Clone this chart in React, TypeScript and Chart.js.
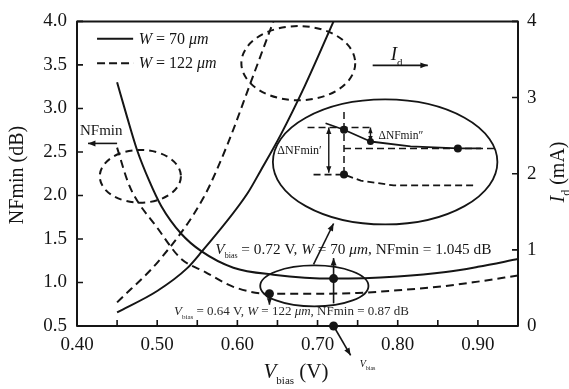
import { useEffect, useRef } from 'react';
import { Chart, registerables } from 'chart.js';

Chart.register(...registerables);

const SERIF = '"Liberation Serif", "Times New Roman", serif';
const INK = '#151515';

// axis ranges
const biasMin = 0.4;
const biasMax = 0.95;
const biasStep = 0.05;
const nfAxisMin = 0.5;
const nfAxisMax = 4.0;
const nfAxisStep = 0.5;
const idAxisMin = 0;
const idAxisMax = 4;
const idAxisStep = 1;

// NFmin (dB) versus Vbias (V)
const nfBias70 = [0.45, 0.4625, 0.475, 0.49, 0.505, 0.53, 0.555, 0.595, 0.645, 0.72, 0.8, 0.86, 0.9, 0.95];
const nfmin70 = [3.3, 2.9, 2.52, 2.17, 1.88, 1.56, 1.36, 1.17, 1.09, 1.045, 1.07, 1.12, 1.18, 1.27];
const nfBias122 = [0.45, 0.4625, 0.47, 0.5, 0.529, 0.56, 0.595, 0.64, 0.7, 0.75, 0.8, 0.86, 0.9, 0.95];
const nfmin122 = [2.55, 2.18, 2.02, 1.63, 1.28, 1.12, 0.95, 0.87, 0.87, 0.88, 0.91, 0.96, 1.01, 1.08];

// Id (mA) versus Vbias (V)
const idBias70 = [0.45, 0.5, 0.5375, 0.555, 0.6125, 0.629, 0.654, 0.684, 0.72];
const id70 = [0.18, 0.46, 0.76, 0.97, 1.74, 2.04, 2.51, 3.15, 4.0];
const idBias122 = [0.45, 0.504, 0.5575, 0.5875, 0.616, 0.6375, 0.645];
const id122 = [0.31, 0.88, 1.68, 2.38, 3.18, 3.79, 4.0];

// optimum bias points: [W = 70 um, W = 122 um]
const optBias = [0.72, 0.64];
const optNF = [1.045, 0.87];

// zoomed sketch inside the large ellipse
const insetSolidBias = [0.71, 0.733, 0.766, 0.816, 0.875, 0.904];
const insetSolidNF = [2.83, 2.755, 2.62, 2.565, 2.54, 2.54];
const insetDashBias = [0.695, 0.733, 0.754, 0.795, 0.895];
const insetDashNF = [2.24, 2.24, 2.17, 2.115, 2.115];
const insetDotBias = [0.733, 0.766, 0.875, 0.733];
const insetDotNF = [2.755, 2.62, 2.54, 2.24];

type Seg = { t: string; it?: boolean; sub?: boolean };

const legend70: Seg[] = [{ t: 'W', it: true }, { t: ' = 70 ' }, { t: 'μm', it: true }];
const legend122: Seg[] = [{ t: 'W', it: true }, { t: ' = 122 ' }, { t: 'μm', it: true }];
const note70: Seg[] = [
  { t: 'V', it: true }, { t: 'bias', sub: true }, { t: ' = 0.72 V, ' },
  { t: 'W', it: true }, { t: ' = 70 ' }, { t: 'μm', it: true }, { t: ', NFmin = 1.045 dB' },
];
const note122: Seg[] = [
  { t: 'V', it: true }, { t: 'bias', sub: true }, { t: ' = 0.64 V, ' },
  { t: 'W', it: true }, { t: ' = 122 ' }, { t: 'μm', it: true }, { t: ', NFmin = 0.87 dB' },
];
const xTitle: Seg[] = [{ t: 'V', it: true }, { t: 'bias', sub: true }, { t: ' (V)' }];
const rightTitle: Seg[] = [{ t: 'I', it: true }, { t: 'd', sub: true }, { t: ' (mA)' }];
const idLabel: Seg[] = [{ t: 'I', it: true }, { t: 'd', sub: true }];
const vbLabel: Seg[] = [{ t: 'V', it: true }, { t: 'bias', sub: true }];

const pts = (xs: number[], ys: number[]) => xs.map((x, i) => ({ x, y: ys[i] }));

function drawRich(
  ctx: CanvasRenderingContext2D, segs: Seg[], x: number, y: number,
  size: number, subSize: number, align: 'left' | 'center' = 'left', color = INK,
) {
  const fontOf = (s: Seg) => `${s.it ? 'italic ' : ''}${s.sub ? subSize : size}px ${SERIF}`;
  let w = 0;
  for (const s of segs) {
    ctx.font = fontOf(s);
    w += ctx.measureText(s.t).width;
  }
  let cx = align === 'center' ? x - w / 2 : x;
  ctx.textBaseline = 'alphabetic';
  ctx.textAlign = 'left';
  ctx.fillStyle = color;
  for (const s of segs) {
    ctx.font = fontOf(s);
    ctx.fillText(s.t, cx, s.sub ? y + size * 0.28 : y);
    cx += ctx.measureText(s.t).width;
  }
}

function head(ctx: CanvasRenderingContext2D, x1: number, y1: number, x2: number, y2: number, size = 8) {
  const a = Math.atan2(y2 - y1, x2 - x1);
  ctx.beginPath();
  ctx.moveTo(x2, y2);
  ctx.lineTo(x2 - size * Math.cos(a - 0.38), y2 - size * Math.sin(a - 0.38));
  ctx.lineTo(x2 - size * Math.cos(a + 0.38), y2 - size * Math.sin(a + 0.38));
  ctx.closePath();
  ctx.fill();
}

function arrow(ctx: CanvasRenderingContext2D, x1: number, y1: number, x2: number, y2: number, both = false, size = 8) {
  ctx.beginPath();
  ctx.moveTo(x1, y1);
  ctx.lineTo(x2, y2);
  ctx.stroke();
  head(ctx, x1, y1, x2, y2, size);
  if (both) head(ctx, x2, y2, x1, y1, size);
}

function dot(ctx: CanvasRenderingContext2D, x: number, y: number, r = 4.5) {
  ctx.beginPath();
  ctx.arc(x, y, r, 0, Math.PI * 2);
  ctx.fill();
}

const overlay = {
  id: 'overlay',
  beforeDraw(chart: Chart) {
    const { ctx, width, height } = chart;
    ctx.save();
    ctx.fillStyle = '#fff';
    ctx.fillRect(0, 0, width, height);
    ctx.restore();
  },
  afterDraw(chart: Chart) {
    const ctx = chart.ctx;
    const sx = chart.scales.x;
    const sy = chart.scales.y;
    const sr = chart.scales.y2;
    const X = (v: number) => sx.getPixelForValue(v);
    const Y = (n: number) => sy.getPixelForValue(n);
    const { left, right, top, bottom } = chart.chartArea;

    ctx.save();
    ctx.strokeStyle = INK;
    ctx.fillStyle = INK;
    ctx.lineJoin = 'round';

    // frame
    ctx.lineWidth = 2;
    ctx.strokeRect(left, top, right - left, bottom - top);

    // inward tick marks
    ctx.lineWidth = 1.6;
    ctx.beginPath();
    for (const t of sx.ticks) {
      const p = X(t.value);
      ctx.moveTo(p, bottom);
      ctx.lineTo(p, bottom - 6);
    }
    for (const t of sy.ticks) {
      const p = Y(t.value);
      ctx.moveTo(left, p);
      ctx.lineTo(left + 6, p);
    }
    for (const t of sr.ticks) {
      const p = sr.getPixelForValue(t.value);
      ctx.moveTo(right, p);
      ctx.lineTo(right - 6, p);
    }
    ctx.stroke();

    // axis titles
    ctx.save();
    ctx.translate(18, 175);
    ctx.rotate(-Math.PI / 2);
    ctx.font = `20px ${SERIF}`;
    ctx.textAlign = 'center';
    ctx.textBaseline = 'middle';
    ctx.fillText('NFmin (dB)', 0, 0);
    ctx.restore();

    ctx.save();
    ctx.translate(564, 172);
    ctx.rotate(-Math.PI / 2);
    drawRich(ctx, rightTitle, 0, 0, 20, 12, 'center');
    ctx.restore();

    drawRich(ctx, xTitle, 296, 378, 21, 11, 'center');

    // legend
    ctx.lineWidth = 2;
    ctx.beginPath();
    ctx.moveTo(X(0.425), Y(3.8));
    ctx.lineTo(X(0.47), Y(3.8));
    ctx.stroke();
    ctx.setLineDash([8, 4]);
    ctx.beginPath();
    ctx.moveTo(X(0.425), Y(3.52));
    ctx.lineTo(X(0.47), Y(3.52));
    ctx.stroke();
    ctx.setLineDash([]);
    drawRich(ctx, legend70, X(0.477), Y(3.8) + 5, 16, 16);
    drawRich(ctx, legend122, X(0.477), Y(3.52) + 5, 16, 16);

    // dashed ellipses marking the curve groups
    ctx.lineWidth = 2;
    ctx.setLineDash([7, 5]);
    const ell = (cv: number, cn: number, rv: number, rn: number) => {
      ctx.beginPath();
      ctx.ellipse(X(cv), Y(cn), X(cv + rv) - X(cv), Y(cn) - Y(cn + rn), 0, 0, Math.PI * 2);
      ctx.stroke();
    };
    ell(0.479, 2.22, 0.0506, 0.303);
    ell(0.676, 3.52, 0.071, 0.426);
    ctx.setLineDash([]);

    // axis pointers
    ctx.lineWidth = 1.6;
    arrow(ctx, X(0.45), Y(2.598), X(0.41375), Y(2.598));
    ctx.font = `15px ${SERIF}`;
    ctx.textAlign = 'left';
    ctx.textBaseline = 'alphabetic';
    ctx.fillText('NFmin', X(0.40375), Y(2.598) - 8);
    arrow(ctx, X(0.76875), Y(3.495), X(0.8375), Y(3.495));
    drawRich(ctx, idLabel, X(0.79125), Y(3.495) - 5, 19, 11);

    // solid ellipses
    ctx.lineWidth = 1.8;
    ell(0.7843, 2.385, 0.14, 0.718);
    ell(0.696, 0.96, 0.0675, 0.2356);

    // zoomed sketch
    ctx.lineWidth = 1.8;
    ctx.beginPath();
    insetSolidBias.forEach((v, i) => (i ? ctx.lineTo(X(v), Y(insetSolidNF[i])) : ctx.moveTo(X(v), Y(insetSolidNF[i]))));
    ctx.stroke();
    ctx.setLineDash([7, 4]);
    ctx.beginPath();
    insetDashBias.forEach((v, i) => (i ? ctx.lineTo(X(v), Y(insetDashNF[i])) : ctx.moveTo(X(v), Y(insetDashNF[i]))));
    ctx.stroke();
    ctx.lineWidth = 1.5;
    ctx.beginPath();
    ctx.moveTo(X(0.6875), Y(2.78));
    ctx.lineTo(X(0.766), Y(2.78));
    ctx.moveTo(X(0.733), Y(2.54));
    ctx.lineTo(X(0.92), Y(2.54));
    ctx.moveTo(X(0.733), Y(2.96));
    ctx.lineTo(X(0.733), Y(2.24));
    ctx.stroke();
    ctx.setLineDash([]);
    insetDotBias.forEach((v, i) => dot(ctx, X(v), Y(insetDotNF[i]), i === 1 ? 3.5 : 4));
    ctx.lineWidth = 1.4;
    arrow(ctx, X(0.714), Y(2.78), X(0.714), Y(2.26), true, 7);
    arrow(ctx, X(0.766), Y(2.78), X(0.766), Y(2.62), true, 6);
    drawRich(ctx, [{ t: 'ΔNFmin′' }], X(0.6775), Y(2.52) + 4, 12, 12, 'center');
    drawRich(ctx, [{ t: 'ΔNFmin″' }], X(0.776), Y(2.70) + 4, 11.5, 11.5);

    // optimum points
    const px70 = X(optBias[0]);
    const py70 = Y(optNF[0]);
    const px122 = X(optBias[1]);
    const py122 = Y(optNF[1]);
    ctx.lineWidth = 1.6;
    arrow(ctx, px70, Y(0.76), px70, Y(1.28), false, 8);
    dot(ctx, px70, py70);
    dot(ctx, px122, py122);
    arrow(ctx, px122, py122, px122, Y(0.745), false, 7);
    dot(ctx, px70, Y(nfAxisMin));
    arrow(ctx, px70, Y(nfAxisMin), X(0.74125), Y(0.163), false, 8);
    drawRich(ctx, vbLabel, X(0.7525), Y(0.074) + 4, 10, 6);
    arrow(ctx, X(0.695), Y(1.207), X(0.72), Y(1.678), false, 8);

    // notes
    drawRich(ctx, note70, X(0.5725), Y(1.386) + 5, 15.3, 8);
    drawRich(ctx, note122, X(0.521), Y(0.668) + 4, 13, 7, 'left', '#2a2a2a');

    ctx.restore();
  },
};

export default function App() {
  const ref = useRef<HTMLCanvasElement>(null);

  useEffect(() => {
    document.body.style.margin = '0';
    const canvas = ref.current;
    if (!canvas) return;
    const tickFont = { family: SERIF, size: 19 };
    const chart = new Chart(canvas, {
      type: 'line',
      data: {
        datasets: [
          { label: 'NFmin, W = 70 μm', data: pts(nfBias70, nfmin70), yAxisID: 'y', borderColor: INK, borderWidth: 2, cubicInterpolationMode: 'monotone' },
          { label: 'NFmin, W = 122 μm', data: pts(nfBias122, nfmin122), yAxisID: 'y', borderColor: INK, borderWidth: 2, borderDash: [8, 5], cubicInterpolationMode: 'monotone' },
          { label: 'Id, W = 70 μm', data: pts(idBias70, id70), yAxisID: 'y2', borderColor: INK, borderWidth: 2, cubicInterpolationMode: 'monotone' },
          { label: 'Id, W = 122 μm', data: pts(idBias122, id122), yAxisID: 'y2', borderColor: INK, borderWidth: 2, borderDash: [8, 5], cubicInterpolationMode: 'monotone' },
        ],
      },
      options: {
        animation: false,
        responsive: false,
        devicePixelRatio: 1,
        layout: { padding: { top: 15, left: 0, right: 0, bottom: 0 } },
        elements: { point: { radius: 0 } },
        plugins: { legend: { display: false }, tooltip: { enabled: false } },
        scales: {
          x: {
            type: 'linear',
            min: biasMin,
            max: biasMax,
            grid: { display: false, drawTicks: false },
            border: { display: false },
            ticks: {
              stepSize: biasStep,
              autoSkip: false,
              maxRotation: 0,
              padding: 8,
              color: INK,
              font: tickFont,
              callback: (value: number | string) => {
                const h = Math.round(Number(value) * 100);
                return h % 10 === 0 ? (h / 100).toFixed(2) : '';
              },
            },
            afterFit: (s: any) => { s.height = 63; },
          },
          y: {
            type: 'linear',
            position: 'left',
            min: nfAxisMin,
            max: nfAxisMax,
            grid: { display: false, drawTicks: false },
            border: { display: false },
            ticks: { stepSize: nfAxisStep, padding: 10, color: INK, font: tickFont, callback: (v: number | string) => Number(v).toFixed(1) },
            afterFit: (s: any) => { s.width = 77; },
          },
          y2: {
            type: 'linear',
            position: 'right',
            min: idAxisMin,
            max: idAxisMax,
            grid: { display: false, drawTicks: false },
            border: { display: false },
            ticks: { stepSize: idAxisStep, padding: 9, color: INK, font: tickFont, callback: (v: number | string) => String(Number(v)) },
            afterFit: (s: any) => { s.width = 51; },
          },
        },
      },
      plugins: [overlay as any],
    } as any);
    return () => chart.destroy();
  }, []);

  return (
    <div style={{ width: 569, height: 389 }}>
      <canvas ref={ref} width={569} height={389} style={{ display: 'block' }} />
    </div>
  );
}
